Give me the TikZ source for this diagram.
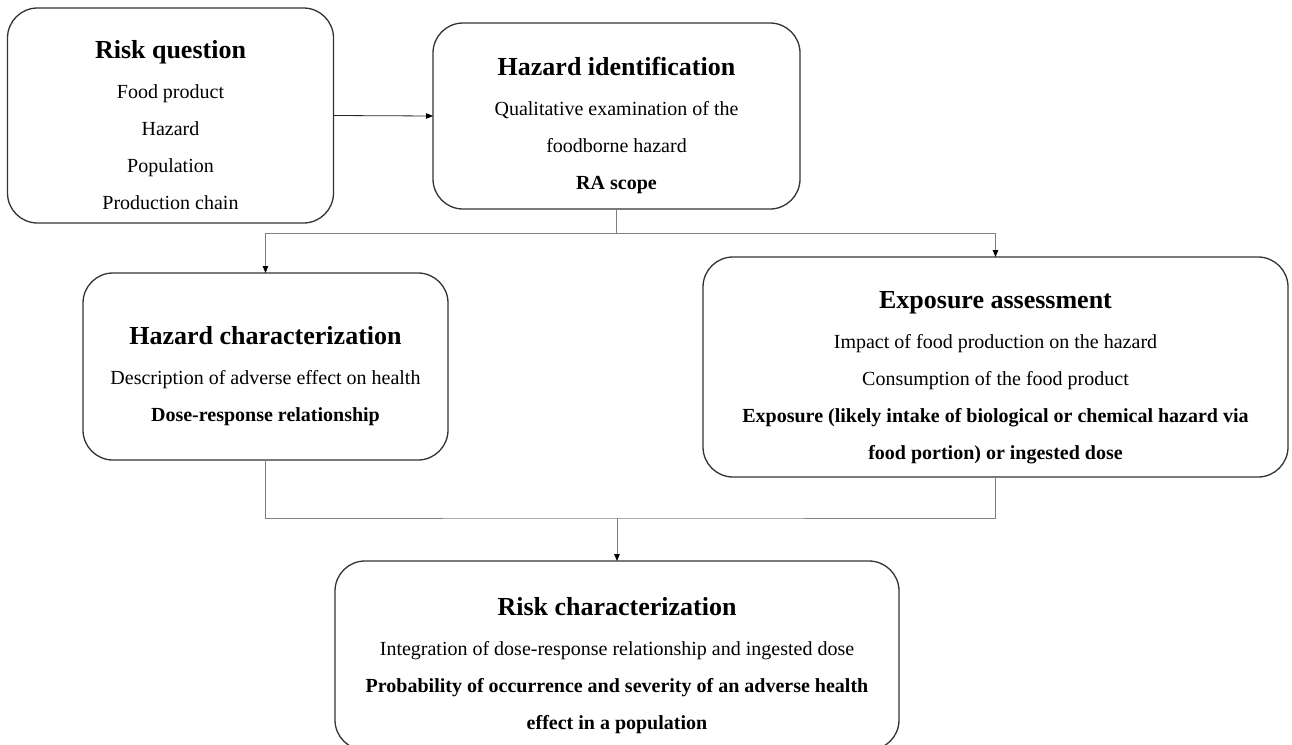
\documentclass[tikz,border=0pt]{standalone}
\usepackage{fontspec}
\setmainfont{Liberation Serif}
\usepackage{tikz}
\usetikzlibrary{calc,arrows.meta}
\def\stagetitle#1{{\rule{0pt}{38pt}\fontsize{26}{30}\selectfont\bfseries #1}}
\tikzset{
	stage/.style={draw=black!80, line width=1.3pt, rounded corners=30pt, align=center,
		inner sep=0pt, outer sep=0pt, font=\fontsize{20}{37}\selectfont},
	link/.style={draw=black!85, line width=0.8pt},
	tree/.style={draw=black!50, line width=0.9pt},
	tip/.style={-{Triangle[length=7pt,width=5.5pt,color=black]}}
}

\begin{document}
\begin{tikzpicture}[x=1pt,y=-1pt]
			%%%%% START %%%%%
			\fill[white] (0,0) rectangle (1292,744);
			\useasboundingbox (0,0) rectangle (1292,744);
			
			\node[stage, minimum width=326pt, minimum height=215pt] (rq) at (170.5,115.5)
				{\stagetitle{Risk question}\\[3pt] Food product\\ Hazard\\ Population\\ Production chain};
			
			\node[stage, minimum width=367pt, minimum height=186pt] (hi) at (616.5,116)
				{\stagetitle{Hazard identification}\\[3pt] Qualitative examination of the\\ foodborne hazard\\ \textbf{RA scope}};
			
			\node[stage, minimum width=365pt, minimum height=187pt] (hc) at (265.5,366.5)
				{\stagetitle{Hazard characterization}\\[3pt] Description of adverse effect on health\\ \textbf{Dose-response relationship}};
			
			\node[stage, minimum width=585pt, minimum height=220pt] (ea) at (995.5,367)
				{\stagetitle{Exposure assessment}\\[3pt] Impact of food production on the hazard\\ Consumption of the food product\\
				\textbf{Exposure (likely intake of biological or chemical hazard via}\\ \textbf{food portion) or ingested dose}};
			
			\node[stage, minimum width=564pt, minimum height=189pt] (rc) at (617,655.5)
				{\stagetitle{Risk characterization}\\[3pt] Integration of dose-response relationship and ingested dose\\
				\textbf{Probability of occurrence and severity of an adverse health}\\ \textbf{effect in a population}};
			
			\coordinate (split) at (616.5,233);
			\coordinate (join) at (617,518);
			
			\draw[link,tip] (rq.east) -- (hi.west);
			
			\draw[tree] (hi.south) -- (split);
			\draw[tree] (hc.north |- split) -- (ea.north |- split);
			\draw[tree,tip] (hc.north |- split) -- (hc.north);
			\draw[tree,tip] (ea.north |- split) -- (ea.north);
			
			\draw[tree] (hc.south) |- (join) -| (ea.south);
			\draw[tree,tip] (join) -- (rc.north);
			%%%%% END %%%%%
\end{tikzpicture}
\end{document}
